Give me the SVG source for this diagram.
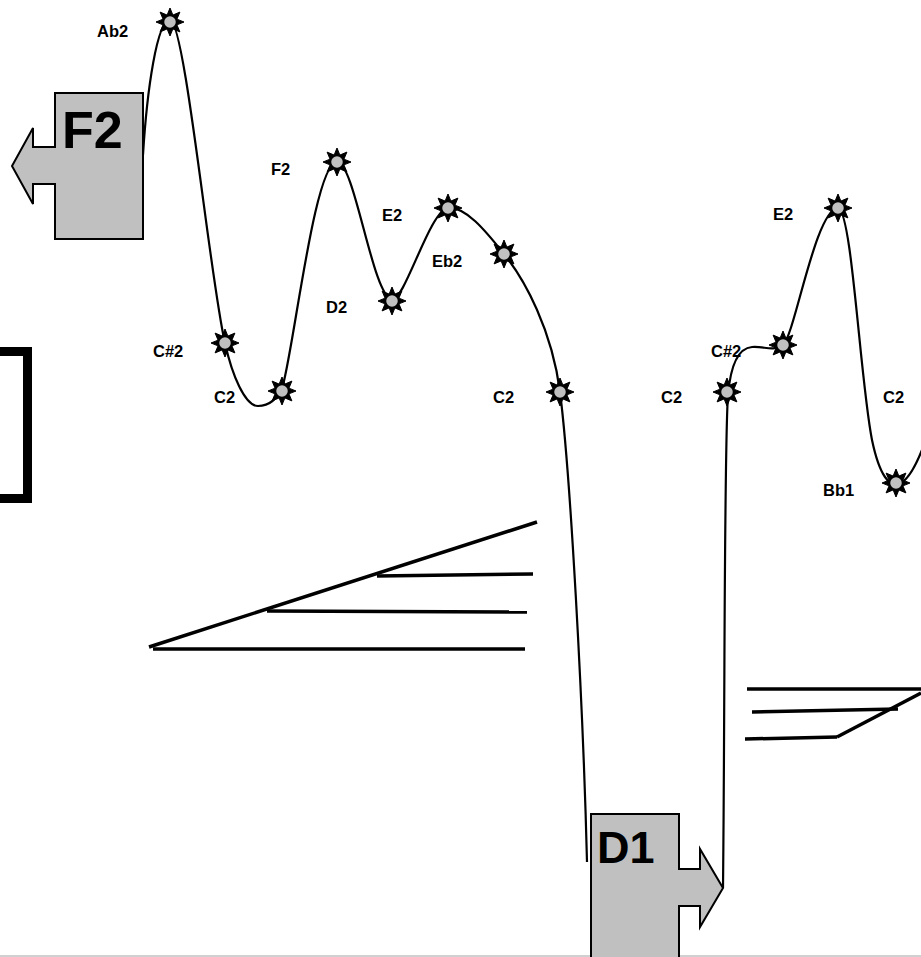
<svg xmlns="http://www.w3.org/2000/svg" xmlns:xlink="http://www.w3.org/1999/xlink" width="921" height="957" viewBox="0 0 921 957">
<style>
.lbl{font-family:"Liberation Sans",Arial,sans-serif;font-weight:bold;font-size:16.5px;fill:#000}
.big{font-family:"Liberation Sans",Arial,sans-serif;font-weight:bold;fill:#000}
.curve{fill:none;stroke:#000;stroke-width:2.2}
.box{fill:#c0c0c0;stroke:#000;stroke-width:2}
.bar{fill:none;stroke:#000;stroke-width:3.5}
</style>
<defs>
<g id="star">
<polygon points="0,-14 2.87,-6.93 9.9,-9.9 6.93,-2.87 14,0 6.93,2.87 9.9,9.9 2.87,6.93 0,14 -2.87,6.93 -9.9,9.9 -6.93,2.87 -14,0 -6.93,-2.87 -9.9,-9.9 -2.87,-6.93" fill="#000" stroke="#000" stroke-width="1" stroke-linejoin="miter"/>
<circle r="6.5" fill="#c0c0c0" stroke="#000" stroke-width="1.5"/>
</g>
</defs>
<rect width="921" height="957" fill="#fff"/>
<line x1="0" y1="956" x2="921" y2="956" stroke="#d0d0d0" stroke-width="2"/>

<g id="connectors">
<path class="curve" d="M143,155 C147,90 157,20 170,20 C185,20 210,280 225,343 C232,375 245,406 258,406 C270,406 278,398 283,385 C295,340 315,162 337,162 C355,162 372,295 392,300 C405,300 430,210 448,208 C465,206 485,230 504,254 C525,280 552,330 560,392 C570,470 583,700 587,862"/>
<path class="curve" d="M723,888 C725,700 724,450 728,395 C731,360 740,348 752,347 C765,346 772,352 783,345 C795,335 815,210 838,208 C852,210 860,380 872,440 C880,478 890,486 898,484 C908,482 916,465 922,450"/>
</g>

<g id="hairpin-left">
<line class="bar" x1="149" y1="647" x2="537" y2="522"/>
<line class="bar" x1="153" y1="649" x2="525" y2="649"/>
<line class="bar" x1="267" y1="611" x2="527" y2="612"/>
<line class="bar" x1="377" y1="576" x2="533" y2="574"/>
</g>
<g id="hairpin-right">
<line class="bar" x1="747" y1="689" x2="921" y2="689"/>
<line class="bar" x1="752" y1="712" x2="898" y2="709"/>
<line class="bar" x1="745" y1="739" x2="837" y2="737"/>
<line class="bar" x1="837" y1="737" x2="921" y2="693"/>
</g>
<g id="bracket">
<polyline points="0,351.5 27.5,351.5 27.5,498.5 0,498.5" fill="none" stroke="#000" stroke-width="9"/>
</g>

<g id="box-F2">
<polygon class="box" points="55,93 143,93 143,239 55,239 55,184 33,184 33,204 12,166 33,128 33,147 55,147"/>
<text class="big" x="62" y="148" font-size="52">F2</text>
</g>
<g id="box-D1">
<polygon class="box" points="591,814 679,814 679,869 700,869 700,849 723,888 700,927 700,906 679,906 679,960 591,960"/>
<text class="big" x="597" y="863" font-size="45">D1</text>
</g>

<g id="n-Ab2"><use xlink:href="#star" x="170" y="22"/><text class="lbl" x="97" y="37">Ab2</text></g>
<g id="n-Cs2a"><use xlink:href="#star" x="225" y="343"/><text class="lbl" x="153" y="357">C#2</text></g>
<g id="n-C2a"><use xlink:href="#star" x="282" y="391"/><text class="lbl" x="214" y="403">C2</text></g>
<g id="n-F2"><use xlink:href="#star" x="337" y="162"/><text class="lbl" x="271" y="175">F2</text></g>
<g id="n-D2"><use xlink:href="#star" x="392" y="301"/><text class="lbl" x="326" y="313">D2</text></g>
<g id="n-E2a"><use xlink:href="#star" x="448" y="208"/><text class="lbl" x="382" y="221">E2</text></g>
<g id="n-Eb2"><use xlink:href="#star" x="504" y="254"/><text class="lbl" x="432" y="267">Eb2</text></g>
<g id="n-C2b"><use xlink:href="#star" x="560" y="392"/><text class="lbl" x="493" y="403">C2</text></g>
<g id="n-C2c"><use xlink:href="#star" x="727" y="392"/><text class="lbl" x="661" y="403">C2</text></g>
<g id="n-Cs2b"><use xlink:href="#star" x="783" y="345"/><text class="lbl" x="711" y="357">C#2</text></g>
<g id="n-E2b"><use xlink:href="#star" x="838" y="208"/><text class="lbl" x="773" y="220">E2</text></g>
<g id="n-C2d"><text class="lbl" x="883" y="403">C2</text></g>
<g id="n-Bb1"><use xlink:href="#star" x="896" y="483"/><text class="lbl" x="823" y="496">Bb1</text></g>
</svg>
